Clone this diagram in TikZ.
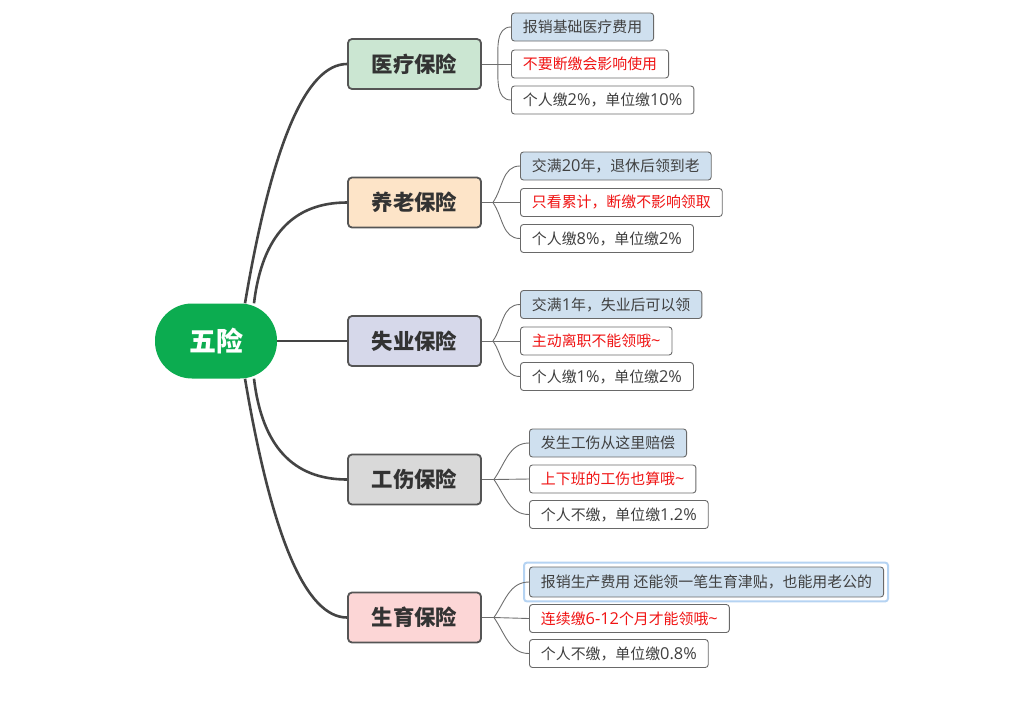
\documentclass[tikz,border=0pt]{standalone}
\usepackage{fontspec}
\setmainfont{Noto Sans CJK SC}
\newfontfamily\latfont[Scale=1.1]{Open Sans}
\newcommand\lat[1]{{\latfont #1}}
\usetikzlibrary{calc}
\definecolor{rootgreen}{RGB}{12,172,80}
\definecolor{linegray}{RGB}{68,68,68}
\definecolor{thingray}{RGB}{110,110,110}
\definecolor{boxborder}{RGB}{85,85,85}
\definecolor{leafborder}{RGB}{105,105,105}
\definecolor{txtdark}{RGB}{51,51,51}
\definecolor{txtleaf}{RGB}{64,64,64}
\definecolor{txtred}{RGB}{240,20,20}
\definecolor{fgreen}{RGB}{203,230,210}
\definecolor{forange}{RGB}{253,228,200}
\definecolor{fpurple}{RGB}{214,216,234}
\definecolor{fgray}{RGB}{217,217,217}
\definecolor{fpink}{RGB}{252,214,214}
\definecolor{fblue}{RGB}{207,224,239}
\definecolor{hlblue}{RGB}{181,211,242}
\tikzset{
  rootnode/.style={fill=rootgreen, text=white, minimum width=122pt, minimum height=75pt,
    rounded corners=37pt, inner sep=0pt, font=\fontsize{27}{30}\selectfont\bfseries},
  branchnode/.style={draw=boxborder, line width=1.8pt, rounded corners=4pt, minimum width=133pt,
    minimum height=50pt, inner sep=0pt, text=txtdark, font=\fontsize{21.4}{24}\selectfont\bfseries},
  leafnode/.style={draw=leafborder, line width=0.9pt, rounded corners=3pt, fill=white, anchor=west,
    minimum height=28pt, inner xsep=11.5pt, inner ysep=0pt, text=txtleaf, font=\fontsize{14.9}{17}\selectfont},
  leafblue/.style={leafnode, fill=fblue},
  leafred/.style={leafnode, text=txtred},
  thick link/.style={draw=linegray, line width=2.6pt},
  thin link/.style={draw=thingray, line width=0.9pt},
  hlbox/.style={draw=hlblue, line width=2pt, rounded corners=3pt}
}
\begin{document}
\begin{tikzpicture}[x=1pt,y=1pt]
\useasboundingbox (0,0) rectangle (1024,-721);
% root and branches
\node[rootnode] (root) at (216,-341) {五险};
\node[branchnode, fill=fgreen] (b1) at (414.5,-64) {医疗保险};
\node[branchnode, fill=forange] (b2) at (414.5,-202.5) {养老保险};
\node[branchnode, fill=fpurple] (b3) at (414.5,-341) {失业保险};
\node[branchnode, fill=fgray] (b4) at (414.5,-479.5) {工伤保险};
\node[branchnode, fill=fpink] (b5) at (414.5,-617.5) {生育保险};
% leaves
\node[leafblue] (l11) at (511,-27) {报销基础医疗费用};
\node[leafred]  (l12) at (511,-64) {不要断缴会影响使用};
\node[leafnode] (l13) at (511,-100) {个人缴\lat{2\%}，单位缴\lat{10\%}};
\node[leafblue] (l21) at (520,-166) {交满\lat{20}年，退休后领到老};
\node[leafred]  (l22) at (520,-202.5) {只看累计，断缴不影响领取};
\node[leafnode] (l23) at (520,-238.5) {个人缴\lat{8\%}，单位缴\lat{2\%}};
\node[leafblue] (l31) at (520,-304.5) {交满\lat{1}年，失业后可以领};
\node[leafred]  (l32) at (520,-341) {主动离职不能领哦\lat{\textasciitilde}};
\node[leafnode] (l33) at (520,-376.5) {个人缴\lat{1\%}，单位缴\lat{2\%}};
\node[leafblue] (l41) at (529,-443) {发生工伤从这里赔偿};
\node[leafred]  (l42) at (529,-479) {上下班的工伤也算哦\lat{\textasciitilde}};
\node[leafnode] (l43) at (529,-514.5) {个人不缴，单位缴\lat{1.2\%}};
\node[leafblue, minimum height=30pt] (l51) at (529,-582) {报销生产费用 还能领一笔生育津贴，也能用老公的};
\node[leafred]  (l52) at (529,-618.5) {连续缴\lat{6-12}个月才能领哦\lat{\textasciitilde}};
\node[leafnode] (l53) at (529,-653.5) {个人不缴，单位缴\lat{0.8\%}};
\draw[hlbox] ($(l51.north west)+(-5,4)$) rectangle ($(l51.south east)+(4,-4)$);
% root connectors
\coordinate (r1) at ($(root.north)+(29,0)$);
\coordinate (r2) at ($(root.north)+(38,0)$);
\coordinate (r4) at ($(root.south)+(38,0)$);
\coordinate (r5) at ($(root.south)+(29,0)$);
\draw[thick link] (r1) .. controls (272,-144) and (306,-64) .. (b1.west);
\draw[thick link] (r2) .. controls (262,-236) and (293,-202.5) .. (b2.west);
\draw[thick link] (root.east) -- (b3.west);
\draw[thick link] (r4) .. controls (262,-446) and (293,-479.5) .. (b4.west);
\draw[thick link] (r5) .. controls (272,-538) and (306,-617.5) .. (b5.west);
% leaf connectors
\coordinate (f1) at ($(b1.east)+(16,0)$);
\coordinate (f2) at ($(b2.east)+(11,0)$);
\coordinate (f3) at ($(b3.east)+(11,0)$);
\coordinate (f4) at ($(b4.east)+(12,0)$);
\coordinate (f5) at ($(b5.east)+(12,0)$);
\draw[thin link] (b1.east) -- (f1);
\draw[thin link] (f1) to[out=90,in=180] (l11.west);
\draw[thin link] (f1) -- (l12.west);
\draw[thin link] (f1) to[out=-90,in=180] (l13.west);
\draw[thin link] (b2.east) -- (f2);
\draw[thin link] (f2) to[out=55,in=180] (l21.west);
\draw[thin link] (f2) -- (l22.west);
\draw[thin link] (f2) to[out=-55,in=180] (l23.west);
\draw[thin link] (b3.east) -- (f3);
\draw[thin link] (f3) to[out=55,in=180] (l31.west);
\draw[thin link] (f3) -- (l32.west);
\draw[thin link] (f3) to[out=-55,in=180] (l33.west);
\draw[thin link] (b4.east) -- (f4);
\draw[thin link] (f4) to[out=55,in=180] (l41.west);
\draw[thin link] (f4) -- (l42.west);
\draw[thin link] (f4) to[out=-55,in=180] (l43.west);
\draw[thin link] (b5.east) -- (f5);
\draw[thin link] (f5) to[out=55,in=180] (l51.west);
\draw[thin link] (f5) -- (l52.west);
\draw[thin link] (f5) to[out=-55,in=180] (l53.west);
\end{tikzpicture}
\end{document}
